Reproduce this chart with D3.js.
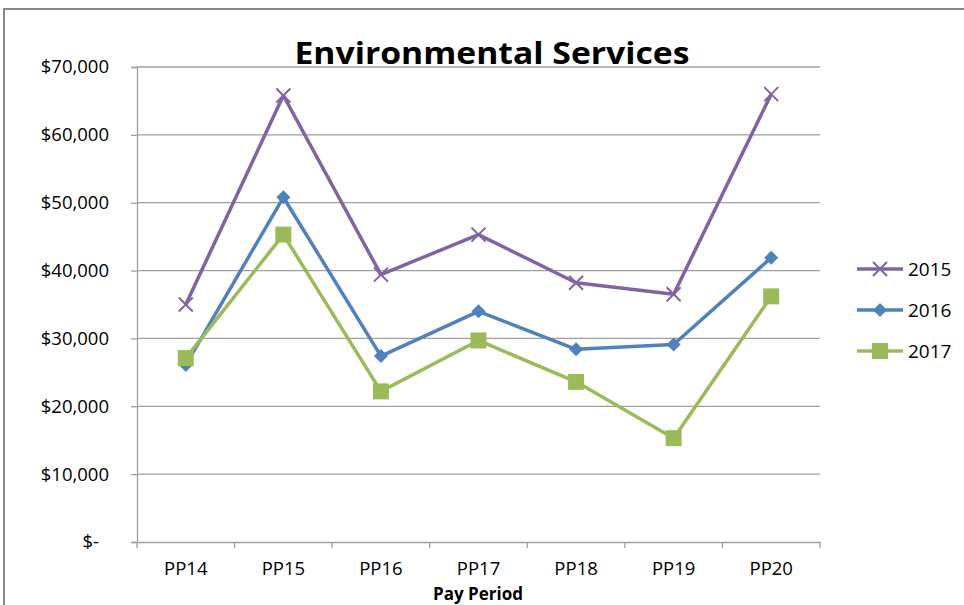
<!DOCTYPE html>
<html>
<head>
<meta charset="utf-8">
<script src="https://cdn.jsdelivr.net/npm/d3@7"></script>
<style>
  body { margin: 0; background: #fff; }
  svg { display: block; font-family: "Open Sans", "Noto Sans", sans-serif; }
</style>
</head>
<body>
<div id="chart"></div>
<script>
// ——— DATA —————————————————————————————————————————————————————————
const periods = ["PP14", "PP15", "PP16", "PP17", "PP18", "PP19", "PP20"];
const years = ["2015", "2016", "2017"];
const values2015 = [35000, 65800, 39400, 45300, 38200, 36500, 66000];
const values2016 = [26100, 50800, 27400, 34000, 28400, 29100, 41900];
const values2017 = [27100, 45300, 22200, 29700, 23600, 15300, 36200];
const yTicks = [0, 10000, 20000, 30000, 40000, 50000, 60000, 70000];

const width = 964;
const height = 605;
const plot = { left: 137, right: 820, top: 67, bottom: 542 };

const series = [
    { key: years[0], values: values2015, color: "#8064A2", marker: "x" },
    { key: years[1], values: values2016, color: "#4F81BD", marker: "diamond" },
    { key: years[2], values: values2017, color: "#9BBB59", marker: "square" }
];

const svg = d3.select("#chart").append("svg")
    .attr("width", width)
    .attr("height", height);

// outer frame
svg.append("rect")
    .attr("x", 4).attr("y", 9)
    .attr("width", width + 10).attr("height", height + 10)
    .attr("fill", "none")
    .attr("stroke", "#878787")
    .attr("stroke-width", 2);

// ——— SCALES ————————————————————————————————————————————————————————
const xScale = d3.scaleBand().domain(periods).range([plot.left, plot.right]);
const yScale = d3.scaleLinear().domain([0, 70000]).range([plot.bottom, plot.top]);
const xc = (p) => xScale(p) + xScale.bandwidth() / 2;

// ——— GRID ——————————————————————————————————————————————————————————
svg.append("g")
    .selectAll("line")
    .data(yTicks.filter((d) => d > 0))
    .enter().append("line")
    .attr("x1", plot.left).attr("x2", plot.right)
    .attr("y1", (d) => yScale(d)).attr("y2", (d) => yScale(d))
    .attr("stroke", "#a0a0a0")
    .attr("stroke-width", 1.3);

// ——— AXES ——————————————————————————————————————————————————————————
const fmt = d3.format(",");
const yaxis = d3.axisLeft(yScale)
    .tickValues(yTicks)
    .tickSize(6)
    .tickPadding(22)
    .tickFormat((d) => d === 0 ? "$-" : "$" + fmt(d));

const gy = svg.append("g")
    .attr("transform", `translate(${plot.left},0)`)
    .call(yaxis)
    .attr("font-family", null);
gy.select(".domain").attr("stroke", "#a0a0a0").attr("stroke-width", 1.3);
gy.selectAll(".tick line").attr("stroke", "#a0a0a0").attr("stroke-width", 1.3);
gy.selectAll(".tick text")
    .attr("font-size", 18.5)
    .attr("fill", "#000")
    .attr("dx", (d) => d === 0 ? -10 : 0);

const xaxis = d3.axisBottom(xScale).tickSize(0).tickPadding(20);
const gx = svg.append("g")
    .attr("transform", `translate(0,${plot.bottom})`)
    .call(xaxis)
    .attr("font-family", null);
gx.select(".domain").attr("stroke", "#a0a0a0").attr("stroke-width", 1.3);
gx.selectAll(".tick text")
    .attr("font-size", 18.5)
    .attr("fill", "#000");

// category boundary ticks
gx.append("g")
    .selectAll("line")
    .data(periods.concat(["end"]))
    .enter().append("line")
    .attr("x1", (d, i) => plot.left + i * xScale.bandwidth())
    .attr("x2", (d, i) => plot.left + i * xScale.bandwidth())
    .attr("y1", 0).attr("y2", 6)
    .attr("stroke", "#a0a0a0")
    .attr("stroke-width", 1.3);

// ——— TITLES ————————————————————————————————————————————————————————
svg.append("text")
    .attr("x", 492).attr("y", 64)
    .attr("text-anchor", "middle")
    .attr("font-size", 31)
    .attr("font-weight", "bold")
    .attr("textLength", 395)
    .attr("lengthAdjust", "spacingAndGlyphs")
    .text("Environmental Services");

svg.append("text")
    .attr("x", 478).attr("y", 600)
    .attr("text-anchor", "middle")
    .attr("font-size", 17)
    .attr("font-weight", "bold")
    .text("Pay Period");

// ——— MARKERS ———————————————————————————————————————————————————————
function drawMarker(g, type, color) {
    if (type === "x") {
        g.append("path")
            .attr("d", "M-7,-7L7,7M-7,7L7,-7")
            .attr("stroke", color)
            .attr("stroke-width", 2)
            .attr("fill", "none");
    } else if (type === "diamond") {
        g.append("path")
            .attr("d", "M0,-7L7,0L0,7L-7,0Z")
            .attr("fill", color);
    } else {
        g.append("rect")
            .attr("x", -8).attr("y", -8)
            .attr("width", 16).attr("height", 16)
            .attr("fill", color);
    }
}

// ——— LINES —————————————————————————————————————————————————————————
const line = d3.line()
    .x((d, i) => xc(periods[i]))
    .y((d) => yScale(d));

series.forEach((s) => {
    const g = svg.append("g");
    g.append("path")
        .attr("d", line(s.values))
        .attr("fill", "none")
        .attr("stroke", s.color)
        .attr("stroke-width", 3.5)
        .attr("stroke-linejoin", "round");
    s.values.forEach((v, i) => {
        const m = g.append("g").attr("transform", `translate(${xc(periods[i])},${yScale(v)})`);
        drawMarker(m, s.marker, s.color);
    });
});

// ——— LEGEND ————————————————————————————————————————————————————————
const legend = svg.append("g");
series.forEach((s, i) => {
    const y = 269 + i * 41;
    const g = legend.append("g").attr("transform", `translate(857,${y})`);
    g.append("line")
        .attr("x1", 0).attr("x2", 46)
        .attr("stroke", s.color)
        .attr("stroke-width", 3.5);
    const m = g.append("g").attr("transform", "translate(23,0)");
    drawMarker(m, s.marker, s.color);
    g.append("text")
        .attr("x", 51).attr("y", 7)
        .attr("font-size", 19)
        .text(s.key);
});
</script>
</body>
</html>
